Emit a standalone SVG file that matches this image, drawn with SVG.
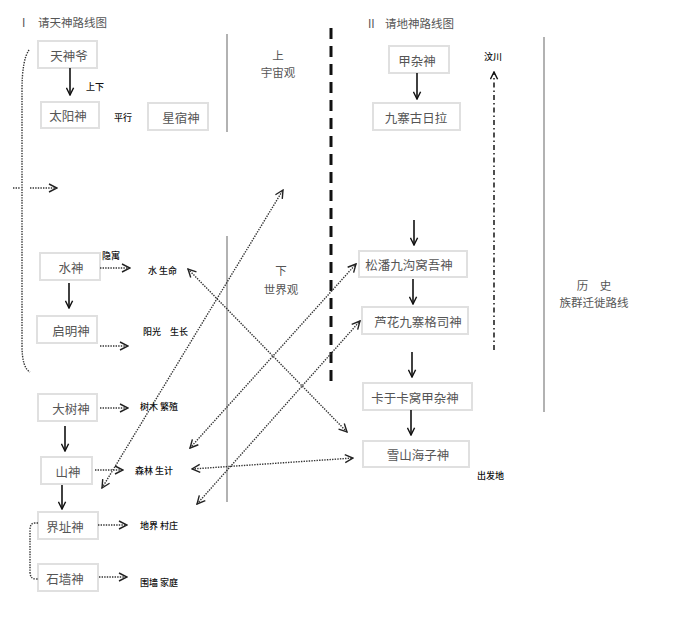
<svg xmlns="http://www.w3.org/2000/svg" width="683" height="635" viewBox="0 0 683 635">
<style>
.box{fill:#fff;stroke:#e0e0e0;stroke-width:2}
.bt{font-family:"Noto Sans CJK SC","Noto Sans",sans-serif;font-size:12.5px;fill:#555;text-anchor:middle;dominant-baseline:central}
.lb{font-family:"Noto Sans CJK SC",sans-serif;font-size:9px;fill:#111;font-weight:500;dominant-baseline:central}
.hd{font-family:"Noto Sans CJK SC","Liberation Serif",sans-serif;font-size:11.5px;fill:#555;dominant-baseline:central}
.sol{stroke:#111;stroke-width:1.6;fill:none}
.dot{stroke:#333;stroke-width:1.4;stroke-dasharray:1.4 1.2;fill:none}
.gray{stroke:#999;stroke-width:1.5}
</style>
<defs>
<marker id="ah" viewBox="0 0 10 10" refX="9" refY="5" markerWidth="9" markerHeight="9" markerUnits="userSpaceOnUse" orient="auto-start-reverse">
<path d="M1,1 L9,5 L1,9" fill="none" stroke="#111" stroke-width="1.6"/>
</marker>
<marker id="ad" viewBox="0 0 10 10" refX="9" refY="5" markerWidth="10" markerHeight="10" markerUnits="userSpaceOnUse" orient="auto-start-reverse">
<path d="M1,1 L9,5 L1,9" fill="none" stroke="#222" stroke-width="1.4"/>
</marker>
</defs>
<rect width="683" height="635" fill="#fff"/>

<g id="titles">
<text class="hd" x="22" y="22" font-family="Liberation Serif">I</text>
<text class="hd" x="38" y="22">请天神路线图</text>
<text class="hd" x="368" y="23" font-family="Liberation Serif">II</text>
<text class="hd" x="385" y="23">请地神路线图</text>
</g>

<g id="dividers">
<line class="gray" x1="227" y1="34" x2="227" y2="132"/>
<line class="gray" x1="227" y1="236" x2="227" y2="502"/>
<line class="gray" x1="544" y1="37" x2="544" y2="412"/>
<line x1="331" y1="28" x2="331" y2="382" stroke="#111" stroke-width="3" stroke-dasharray="11 7"/>
<text class="hd" x="278" y="55" text-anchor="middle">上</text>
<text class="hd" x="278" y="72" text-anchor="middle">宇宙观</text>
<text class="hd" x="281" y="270" text-anchor="middle">下</text>
<text class="hd" x="281" y="289" text-anchor="middle">世界观</text>
<text class="hd" x="594" y="285" text-anchor="middle">历　史</text>
<text class="hd" x="594" y="302" text-anchor="middle">族群迁徙路线</text>
</g>

<g id="n-tianshenye"><rect class="box" x="38" y="41" width="59" height="27"/><text class="bt" x="69" y="55">天神爷</text></g>
<g id="n-taiyang"><rect class="box" x="41" y="102" width="58" height="26"/><text class="bt" x="68" y="115">太阳神</text></g>
<g id="n-xingsu"><rect class="box" x="148" y="103" width="60" height="27"/><text class="bt" x="181" y="117">星宿神</text></g>
<g id="n-shui"><rect class="box" x="40" y="253" width="60" height="27"/><text class="bt" x="71" y="267">水神</text></g>
<g id="n-qiming"><rect class="box" x="37" y="316" width="60" height="27"/><text class="bt" x="71" y="330">启明神</text></g>
<g id="n-dashu"><rect class="box" x="38" y="394" width="59" height="27"/><text class="bt" x="71" y="408">大树神</text></g>
<g id="n-shan"><rect class="box" x="41" y="457" width="51" height="27"/><text class="bt" x="68" y="471">山神</text></g>
<g id="n-jiezhi"><rect class="box" x="38" y="512" width="60" height="27"/><text class="bt" x="65" y="526">界址神</text></g>
<g id="n-shiqiang"><rect class="box" x="38" y="564" width="60" height="27"/><text class="bt" x="65" y="578">石墙神</text></g>

<g id="n-jiazashen"><rect class="box" x="389" y="46" width="60" height="27"/><text class="bt" x="417" y="60">甲杂神</text></g>
<g id="n-jiuzhai"><rect class="box" x="373" y="103" width="87" height="27"/><text class="bt" x="416" y="117">九寨古日拉</text></g>
<g id="n-songpan"><rect class="box" x="359" y="251" width="108" height="26"/><text class="bt" x="409" y="264">松潘九沟窝吾神</text></g>
<g id="n-luhua"><rect class="box" x="362" y="307" width="106" height="27"/><text class="bt" x="418" y="321">芦花九寨格司神</text></g>
<g id="n-kayu"><rect class="box" x="363" y="383" width="109" height="27"/><text class="bt" x="415" y="397">卡于卡窝甲杂神</text></g>
<g id="n-xueshan"><rect class="box" x="363" y="441" width="106" height="26"/><text class="bt" x="418" y="454">雪山海子神</text></g>

<g id="labels">
<text class="lb" x="86" y="86">上下</text>
<text class="lb" x="114" y="117">平行</text>
<text class="lb" x="102" y="255">隐寓</text>
<text class="lb" x="148" y="270">水 生命</text>
<text class="lb" x="143" y="331">阳光　生长</text>
<text class="lb" x="140" y="406">树木 繁殖</text>
<text class="lb" x="135" y="470">森林 生计</text>
<text class="lb" x="140" y="525">地界 村庄</text>
<text class="lb" x="140" y="582">围墙 家庭</text>
<text class="lb" x="484" y="56">汶川</text>
<text class="lb" x="477" y="475">出发地</text>
</g>

<g id="connectors">
<line class="sol" x1="70" y1="68" x2="70" y2="95" marker-end="url(#ah)"/>
<line class="sol" x1="69" y1="283" x2="69" y2="308" marker-end="url(#ah)"/>
<line class="sol" x1="65" y1="426" x2="65" y2="451" marker-end="url(#ah)"/>
<line class="sol" x1="62" y1="485" x2="62" y2="509" marker-end="url(#ah)"/>
<line class="sol" x1="417" y1="73" x2="417" y2="99" marker-end="url(#ah)"/>
<line class="sol" x1="414" y1="220" x2="414" y2="245" marker-end="url(#ah)"/>
<line class="sol" x1="413" y1="279" x2="413" y2="304" marker-end="url(#ah)"/>
<line class="sol" x1="412" y1="352" x2="412" y2="377" marker-end="url(#ah)"/>
<line class="sol" x1="411" y1="410" x2="411" y2="435" marker-end="url(#ah)"/>

<path class="dot" d="M29,50 Q22,60 22,90 L22,345 Q22,368 30,372"/>
<line class="dot" x1="13" y1="188" x2="20" y2="188"/>
<line class="dot" x1="30" y1="188" x2="57" y2="188" marker-end="url(#ad)"/>
<line class="dot" x1="100" y1="268" x2="130" y2="268" marker-end="url(#ad)"/>
<line class="dot" x1="100" y1="346" x2="128" y2="346" marker-end="url(#ad)"/>
<line class="dot" x1="100" y1="408" x2="128" y2="408" marker-end="url(#ad)"/>
<line class="dot" x1="95" y1="470" x2="123" y2="470" marker-end="url(#ad)"/>
<line class="dot" x1="98" y1="525" x2="127" y2="525" marker-end="url(#ad)"/>
<line class="dot" x1="99" y1="577" x2="127" y2="577" marker-end="url(#ad)"/>
<path class="dot" d="M38,523 L35,523 Q30,523 30,530 L30,572 Q30,579 36,579 L38,579"/>

<line class="dot" x1="102" y1="488" x2="283" y2="190" marker-start="url(#ad)" marker-end="url(#ad)"/>
<line class="dot" x1="188" y1="269" x2="347" y2="432" marker-start="url(#ad)" marker-end="url(#ad)"/>
<line class="dot" x1="190" y1="448" x2="356" y2="264" marker-start="url(#ad)" marker-end="url(#ad)"/>
<line class="dot" x1="197" y1="504" x2="360" y2="321" marker-start="url(#ad)" marker-end="url(#ad)"/>
<line class="dot" x1="192" y1="469" x2="353" y2="458" marker-start="url(#ad)" marker-end="url(#ad)"/>

<line x1="494" y1="350" x2="494" y2="72" stroke="#222" stroke-width="1.6" stroke-dasharray="5 3 1.5 3" marker-end="url(#ah)"/>
</g>
</svg>
